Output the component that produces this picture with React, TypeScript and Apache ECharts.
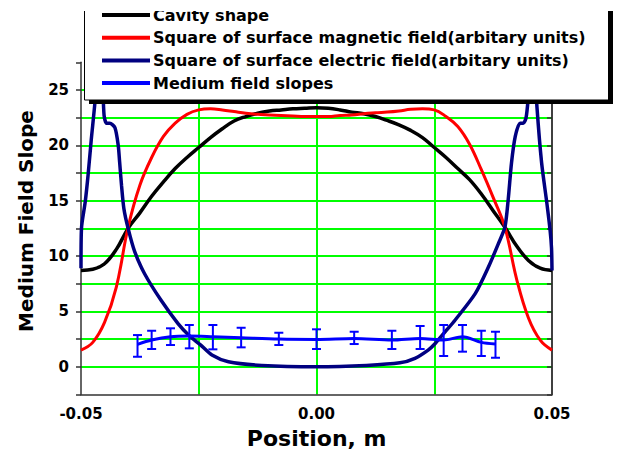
import React, { useEffect, useRef } from "react";
import * as echarts from "echarts";

const FONT = "'DejaVu Sans', sans-serif";

// Positions (m) for the cavity shape and magnetic field curves
const gridPositions = [
  -0.05, -0.0475, -0.045, -0.0425, -0.04, -0.0375, -0.035, -0.0325, -0.03, -0.0275,
  -0.025, -0.0225, -0.02, -0.0175, -0.015, -0.0125, -0.01, -0.0075, -0.005, -0.0025,
  0, 0.0025, 0.005, 0.0075, 0.01, 0.0125, 0.015, 0.0175, 0.02, 0.0225,
  0.025, 0.0275, 0.03, 0.0325, 0.035, 0.0375, 0.04, 0.0425, 0.045, 0.0475, 0.05,
];

const cavityShape = [
  8.7, 8.8, 9.3, 10.6, 12.5, 13.9, 15.4, 16.7, 17.9, 18.9,
  19.8, 20.7, 21.5, 22.2, 22.6, 22.9, 23.1, 23.2, 23.3, 23.35,
  23.4, 23.35, 23.2, 23.0, 22.85, 22.6, 22.25, 21.85, 21.35, 20.7,
  19.8, 18.9, 17.9, 16.9, 15.6, 14.1, 12.6, 10.9, 9.6, 8.9, 8.7,
];

const magneticSquare = [
  1.5, 2.2, 4.0, 7.2, 12.6, 16.4, 18.9, 20.8, 22.0, 22.8,
  23.2, 23.3, 23.2, 23.05, 22.9, 22.8, 22.75, 22.7, 22.65, 22.6,
  22.6, 22.6, 22.7, 22.75, 22.85, 22.95, 23.0, 23.1, 23.25, 23.3,
  23.2, 22.6, 21.7, 20.1, 17.8, 15.3, 12.6, 7.9, 4.4, 2.4, 1.5,
];

const electricPositions = [
  -0.05, -0.0499, -0.0491, -0.0485, -0.0478, -0.0471, -0.0465, -0.046, -0.0455, -0.0451,
  -0.0446, -0.0439, -0.0428, -0.0421, -0.0418, -0.0414, -0.0409, -0.04, -0.0386, -0.0365,
  -0.033, -0.0294, -0.027, -0.0247, -0.0222, -0.0187, -0.0116, 0, 0.0106, 0.0177,
  0.0209, 0.0237, 0.0252, 0.0276, 0.0294, 0.0337, 0.0365, 0.0386, 0.04, 0.0407,
  0.0414, 0.0422, 0.0432, 0.0439, 0.0445, 0.045, 0.0457, 0.0462, 0.0468, 0.0478,
  0.0489, 0.0496, 0.0499, 0.05,
];

const electricSquare = [
  8.9, 12.5, 14.9, 17.3, 20.6, 23.6, 27.0, 28.0, 26.5, 22.7,
  22.0, 22.0, 21.6, 20.0, 18.5, 16.4, 14.3, 12.5, 10.4, 8.4,
  6.0, 3.9, 2.8, 2.0, 1.06, 0.45, 0.12, 0.0, 0.12, 0.35,
  0.76, 1.5, 2.1, 3.3, 4.2, 6.6, 9.0, 11.1, 12.6, 15.1,
  18.4, 20.8, 22.0, 22.0, 22.5, 24.5, 28.0, 28.0, 23.5, 18.4,
  14.8, 12.3, 10.7, 8.7,
];

const slopePositions = [
  -0.038, -0.035, -0.031, -0.027, -0.022, -0.016, -0.008, 0, 0.008, 0.016, 0.022, 0.027, 0.031, 0.035, 0.038,
];
const slopeValues = [2.02, 2.41, 2.71, 2.77, 2.71, 2.62, 2.5, 2.47, 2.56, 2.41, 2.56, 2.41, 2.71, 2.2, 2.05];
const slopeLow = [0.9, 1.6, 1.96, 1.66, 1.57, 1.75, 1.96, 1.6, 2.05, 1.6, 1.6, 0.97, 1.36, 0.97, 0.81];
const slopeHigh = [2.86, 3.25, 3.47, 3.77, 3.77, 3.52, 3.07, 3.38, 3.16, 3.25, 3.68, 3.77, 3.77, 3.25, 3.16];

const xTickLabels = ["-0.05", "0.00", "0.05"];
const yTickLabels = ["0", "5", "10", "15", "20", "25"];

const seriesNames = [
  "Cavity shape",
  "Square of surface magnetic field(arbitary units)",
  "Square of surface electric field(arbitary units)",
  "Medium field slopes",
];
const seriesColors = ["#000000", "#ff0000", "#000080", "#0000ff"];

const xTitle = "Position, m";
const yTitle = "Medium Field Slope";

export default function App() {
  const ref = useRef<HTMLDivElement>(null);

  useEffect(() => {
    if (!ref.current) return;
    const chart = echarts.init(ref.current, undefined, { renderer: "svg" });

    const legendRows = [15, 37.7, 60.4, 83];
    const legendElements: any[] = [
      {
        type: "rect",
        z: 100,
        shape: { x: 89, y: -20, width: 524, height: 124 },
        style: { fill: "#000" },
      },
      {
        type: "rect",
        z: 101,
        shape: { x: 84.5, y: -25, width: 524, height: 125 },
        style: { fill: "#fff", stroke: "#000", lineWidth: 1 },
      },
    ];
    seriesNames.forEach((name, i) => {
      legendElements.push({
        type: "line",
        z: 102,
        shape: { x1: 102, y1: legendRows[i], x2: 150, y2: legendRows[i] },
        style: { stroke: seriesColors[i], lineWidth: 4 },
      });
      legendElements.push({
        type: "text",
        z: 102,
        x: 153,
        y: legendRows[i],
        style: {
          text: name,
          fill: "#000",
          font: `bold 16px ${FONT}`,
          textAlign: "left",
          textVerticalAlign: "middle",
        },
      });
    });

    const titles: any[] = [
      {
        type: "text",
        z: 100,
        x: 26,
        y: 221,
        rotation: Math.PI / 2,
        style: {
          text: yTitle,
          fill: "#000",
          font: `bold 20px ${FONT}`,
          textAlign: "center",
          textVerticalAlign: "middle",
        },
      },
      {
        type: "text",
        z: 100,
        x: 316.7,
        y: 438,
        style: {
          text: xTitle,
          fill: "#000",
          font: `bold 22px ${FONT}`,
          textAlign: "center",
          textVerticalAlign: "middle",
        },
      },
    ];

    const xFormatter = (v: number) => {
      const r = Math.round(v * 1000);
      if (r % 50 !== 0) return "";
      const idx = (r + 50) / 50;
      return xTickLabels[idx] ?? "";
    };
    const yFormatter = (v: number) => {
      const r = Math.round(v * 10);
      if (r < 0 || r % 50 !== 0) return "";
      return yTickLabels[r / 50] ?? "";
    };

    const labelStyle = {
      fontFamily: FONT,
      fontWeight: "bold" as const,
      fontSize: 15,
      color: "#000",
    };

    const lineSeries = (name: string, xs: number[], ys: number[], color: string, width: number, smooth: number, z: number) => ({
      type: "line",
      name,
      data: xs.map((x, i) => [x, ys[i]]),
      showSymbol: false,
      symbol: "none",
      smooth,
      z,
      lineStyle: { color, width },
      itemStyle: { color },
    });

    chart.setOption({
      animation: false,
      backgroundColor: "#fff",
      textStyle: { fontFamily: FONT },
      grid: { left: 81, right: 65, top: 62.3, bottom: 57.6, containLabel: false },
      xAxis: {
        type: "value",
        min: -0.05,
        max: 0.05,
        interval: 0.025,
        axisLine: { show: true, onZero: false, lineStyle: { color: "#333", width: 1.5 } },
        axisTick: { show: false },
        axisLabel: { ...labelStyle, margin: 12, formatter: xFormatter, showMinLabel: true, showMaxLabel: true },
        splitLine: { show: true, showMinLine: false, showMaxLine: false, lineStyle: { color: "#00ff00", width: 2 } },
      },
      yAxis: [
        {
          type: "value",
          min: -2.5,
          max: 27.5,
          interval: 2.5,
          axisLine: { show: true, onZero: false, lineStyle: { color: "#333", width: 1.5 } },
          axisTick: { show: true, length: 5, lineStyle: { color: "#333", width: 1.5 } },
          axisLabel: { ...labelStyle, margin: 12, formatter: yFormatter },
          splitLine: { show: true, showMinLine: false, showMaxLine: false, lineStyle: { color: "#00ff00", width: 2 } },
        },
        {
          type: "value",
          position: "right",
          min: -2.5,
          max: 27.5,
          interval: 2.5,
          axisLine: { show: true, onZero: false, lineStyle: { color: "#000", width: 1.5 } },
          axisTick: { show: true, inside: true, length: 5, lineStyle: { color: "#333", width: 1.5 } },
          axisLabel: { show: false },
          splitLine: { show: false },
        },
      ],
      series: [
        lineSeries(seriesNames[0], gridPositions, cavityShape, seriesColors[0], 3.5, 0.4, 2),
        lineSeries(seriesNames[1], gridPositions, magneticSquare, seriesColors[1], 3, 0.4, 3),
        lineSeries(seriesNames[2], electricPositions, electricSquare, seriesColors[2], 3.5, 0.25, 4),
        lineSeries(seriesNames[3], slopePositions, slopeValues, seriesColors[3], 3, 0.3, 5),
        {
          type: "custom",
          name: seriesNames[3] + " errors",
          z: 6,
          data: slopePositions.map((x, i) => [x, slopeLow[i], slopeHigh[i]]),
          encode: { x: 0, y: [1, 2] },
          renderItem: (_params: any, api: any) => {
            const lo = api.coord([api.value(0), api.value(1)]);
            const hi = api.coord([api.value(0), api.value(2)]);
            const w = 4.5;
            const style = { stroke: seriesColors[3], lineWidth: 2 };
            return {
              type: "group",
              children: [
                { type: "line", shape: { x1: lo[0], y1: lo[1], x2: hi[0], y2: hi[1] }, style },
                { type: "line", shape: { x1: lo[0] - w, y1: lo[1], x2: lo[0] + w, y2: lo[1] }, style },
                { type: "line", shape: { x1: hi[0] - w, y1: hi[1], x2: hi[0] + w, y2: hi[1] }, style },
              ],
            };
          },
        },
      ],
      graphic: { elements: [...legendElements, ...titles] },
    });

    return () => chart.dispose();
  }, []);

  return (
    <div
      style={{
        position: "fixed",
        left: 0,
        top: 11,
        width: 617,
        height: 441,
        overflow: "hidden",
        background: "#fff",
      }}
    >
      <div ref={ref} style={{ position: "absolute", left: 0, top: -11, width: 617, height: 452 }} />
    </div>
  );
}
